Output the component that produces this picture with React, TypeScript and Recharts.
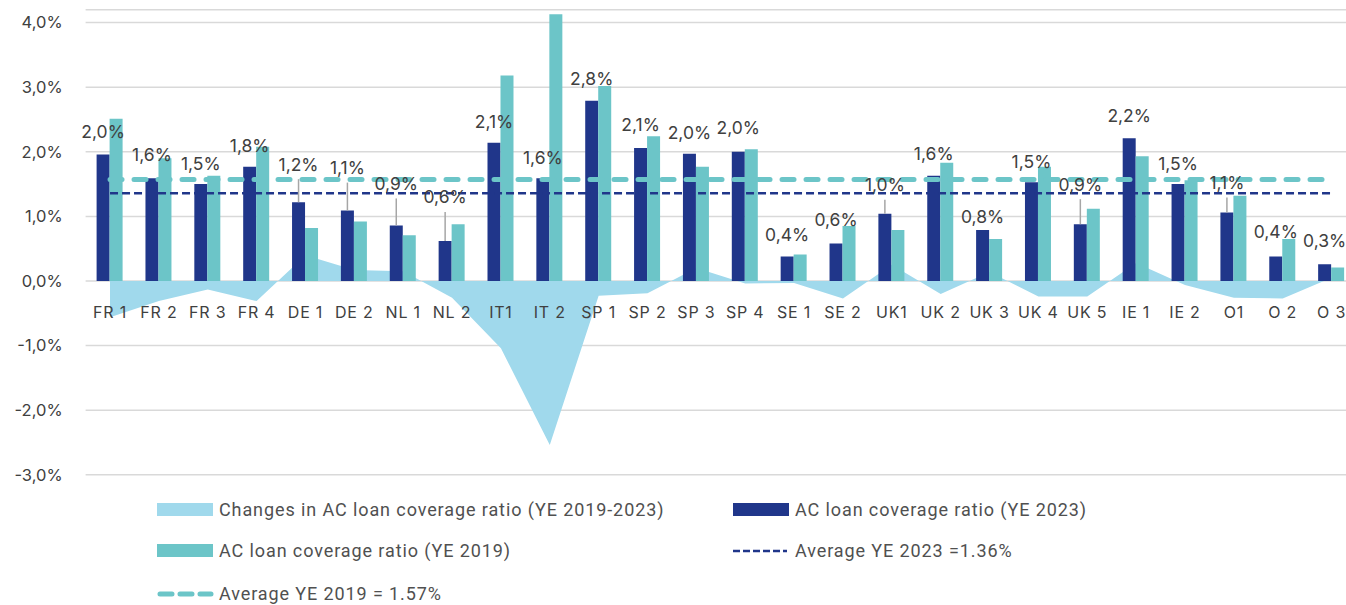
import React from "react";
import {
  ComposedChart,
  Bar,
  Area,
  XAxis,
  YAxis,
  CartesianGrid,
  ReferenceLine,
  LabelList,
} from "recharts";

const categories = [
  "FR 1", "FR 2", "FR 3", "FR 4", "DE 1", "DE 2", "NL 1", "NL 2", "IT1", "IT 2",
  "SP 1", "SP 2", "SP 3", "SP 4", "SE 1", "SE 2", "UK1", "UK 2", "UK 3", "UK 4",
  "UK 5", "IE 1", "IE 2", "O1", "O 2", "O 3",
];

const coverage2023 = [
  1.96, 1.59, 1.5, 1.77, 1.22, 1.09, 0.86, 0.62, 2.14, 1.59,
  2.79, 2.06, 1.97, 2.0, 0.38, 0.58, 1.04, 1.63, 0.79, 1.53,
  0.88, 2.21, 1.5, 1.06, 0.38, 0.26,
];

const coverage2019 = [
  2.51, 1.9, 1.63, 2.08, 0.82, 0.92, 0.71, 0.88, 3.18, 4.13,
  3.02, 2.24, 1.77, 2.04, 0.41, 0.85, 0.79, 1.83, 0.65, 1.77,
  1.12, 1.93, 1.56, 1.32, 0.65, 0.21,
];

const change = [
  -0.56, -0.31, -0.13, -0.31, 0.4, 0.17, 0.15, -0.26, -1.04, -2.54,
  -0.23, -0.19, 0.2, -0.04, -0.03, -0.27, 0.25, -0.2, 0.14, -0.24,
  -0.24, 0.28, -0.06, -0.26, -0.27, 0.05,
];

const yTicks = [-3, -2, -1, 0, 1, 2, 3, 4];
const AVG_2023 = 1.36;
const AVG_2019 = 1.57;

// how far (px) each 2023 label sits above its bar
const LABEL_LIFT = [
  23, 24, 21, 21, 38, 43, 42, 44, 21, 21,
  22, 23, 21, 24, 22, 24, 29, 22, 13, 21,
  40, 23, 21, 30, 25, 24,
];

const DARK = "#20368a";
const TEAL = "#6cc5c8";
const LIGHT = "#a0d9ec";
const TEXT = "#404040";

const Y_MIN = -3;
const Y_MAX = 4.2;
const TOP = 9.7;
const PLOT_H = 465.1;
const ZERO_Y = TOP + (PLOT_H * Y_MAX) / (Y_MAX - Y_MIN);

const data = categories.map((name, i) => ({
  name,
  change: change[i],
  y2023: coverage2023[i],
  y2019: coverage2019[i],
}));

const fmt = (v: number) => (Math.round(v * 10) / 10).toFixed(1).replace(".", ",") + "%";

const renderLabel = (props: any) => {
  const { x, y, width, value, index } = props;
  const cx = x + width / 2;
  const lift = LABEL_LIFT[index];
  const ly = y - lift;
  return (
    <g>
      {lift > 26 && (
        <line x1={cx} x2={cx} y1={y} y2={ly + 15} stroke="#a6a6a6" strokeWidth={1.5} />
      )}
      <text
        x={cx}
        y={ly}
        textAnchor="middle"
        dominantBaseline="central"
        fontFamily="Inter, sans-serif"
        fontSize={17.5}
        fill={TEXT}
      >
        {fmt(value)}
      </text>
    </g>
  );
};

const CategoryTick = (props: any) => {
  const { x, payload } = props;
  return (
    <text
      x={x}
      y={ZERO_Y + 31}
      textAnchor="middle"
      dominantBaseline="central"
      fontFamily="Inter, sans-serif"
      fontSize={16}
      letterSpacing={0.8}
      fill={TEXT}
    >
      {payload.value}
    </text>
  );
};

const legendFont: React.CSSProperties = {
  position: "absolute",
  fontFamily: "Roboto, sans-serif",
  fontSize: 18,
  letterSpacing: 0.9,
  color: "#505050",
  whiteSpace: "nowrap",
  lineHeight: "20px",
};

function ChartLegend() {
  return (
    <div style={{ position: "absolute", left: 0, top: 0, width: 1346, height: 605, pointerEvents: "none" }}>
      <svg width={1346} height={605} style={{ position: "absolute", left: 0, top: 0 }}>
        <rect x={157} y={503} width={56} height={13} fill={LIGHT} />
        <rect x={733} y={503} width={56} height={13} fill={DARK} />
        <rect x={157} y={544} width={56} height={13} fill={TEAL} />
        <line x1={733} x2={787} y1={551} y2={551} stroke={DARK} strokeWidth={2.5} strokeDasharray="7 3" />
        <line
          x1={160}
          x2={211}
          y1={594}
          y2={594}
          stroke={TEAL}
          strokeWidth={5}
          strokeDasharray="12 8"
          strokeLinecap="round"
        />
      </svg>
      <div style={{ ...legendFont, left: 219, top: 500 }}>Changes in AC loan coverage ratio (YE 2019-2023)</div>
      <div style={{ ...legendFont, left: 795, top: 500 }}>AC loan coverage ratio (YE 2023)</div>
      <div style={{ ...legendFont, left: 219, top: 541 }}>AC loan coverage ratio (YE 2019)</div>
      <div style={{ ...legendFont, left: 795, top: 541 }}>Average YE 2023 =1.36%</div>
      <div style={{ ...legendFont, left: 219, top: 584 }}>Average YE 2019 = 1.57%</div>
    </div>
  );
}

export default function App() {
  return (
    <div
      style={{
        position: "fixed",
        left: 0,
        top: 0,
        width: 1346,
        height: 605,
        overflow: "hidden",
        background: "#ffffff",
      }}
    >
      <ComposedChart
        width={1370}
        height={605}
        data={data}
        margin={{ top: TOP, right: 14, bottom: 605 - TOP - PLOT_H - 30, left: 0 }}
        barGap={0}
      >
        <CartesianGrid horizontal vertical={false} stroke="#d9d9d9" strokeWidth={1.5} />
        <XAxis
          dataKey="name"
          axisLine={false}
          tickLine={false}
          height={30}
          interval={0}
          tick={<CategoryTick />}
        />
        <YAxis
          width={85.6}
          domain={[Y_MIN, Y_MAX]}
          ticks={yTicks}
          allowDataOverflow
          axisLine={false}
          tickLine={false}
          tickSize={0}
          tickMargin={23}
          tickFormatter={(v: number) => v.toFixed(1).replace(".", ",") + "%"}
          tick={{ fill: TEXT, fontSize: 16.5, fontFamily: "Inter, sans-serif" }}
        />
        <Area
          type="linear"
          dataKey="change"
          baseValue={0}
          fill={LIGHT}
          fillOpacity={1}
          stroke="none"
          isAnimationActive={false}
        />
        <Bar dataKey="y2023" fill={DARK} barSize={13} isAnimationActive={false}>
          <LabelList dataKey="y2023" content={renderLabel} />
        </Bar>
        <Bar dataKey="y2019" fill={TEAL} barSize={13} isAnimationActive={false} />
        <ReferenceLine
          segment={[
            { x: categories[0], y: AVG_2019 },
            { x: categories[categories.length - 1], y: AVG_2019 },
          ]}
          stroke={TEAL}
          strokeWidth={5}
          strokeDasharray="12 12"
          strokeLinecap="round"
        />
        <ReferenceLine
          segment={[
            { x: categories[0], y: AVG_2023 },
            { x: categories[categories.length - 1], y: AVG_2023 },
          ]}
          stroke={DARK}
          strokeWidth={2.5}
          strokeDasharray="8 4"
        />
      </ComposedChart>
      <ChartLegend />
    </div>
  );
}
